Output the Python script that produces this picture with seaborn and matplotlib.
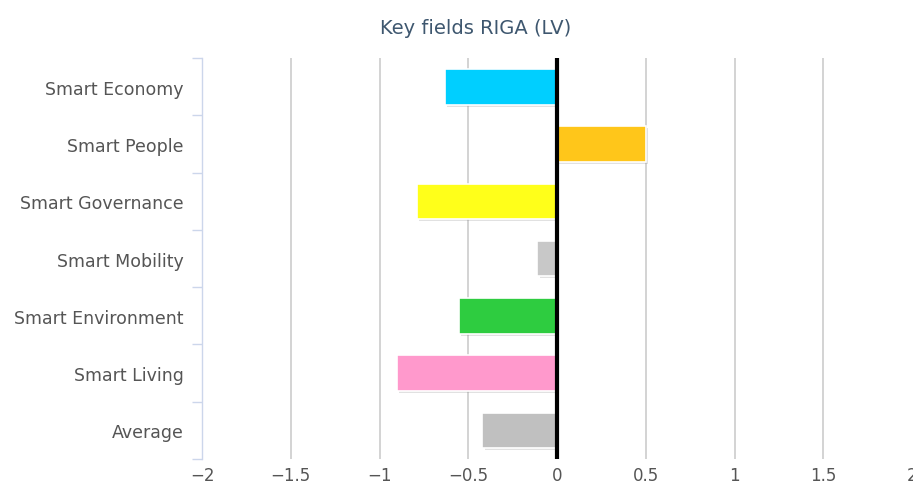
import matplotlib
matplotlib.use("Agg")
import matplotlib.pyplot as plt
import matplotlib.patheffects as pe
import seaborn as sns
import pandas as pd
import numpy as np

# values
categories = ["Smart Economy", "Smart People", "Smart Governance", "Smart Mobility",
              "Smart Environment", "Smart Living", "Average"]
scores = [-0.63, 0.50, -0.79, -0.11, -0.55, -0.90, -0.42]
bar_colors = ["#00cfff", "#ffc61a", "#ffff1a", "#c8c8c8", "#2ecc40", "#ff99cc", "#c0c0c0"]
x_ticks = [-2, -1.5, -1, -0.5, 0, 0.5, 1, 1.5, 2]

df = pd.DataFrame({"field": categories, "score": scores})

sns.set_style("white")
plt.rcParams["font.family"] = ["DejaVu Sans"]

fig = plt.figure(figsize=(9.13, 4.85), dpi=100)
ax = fig.add_axes([0.2213, 0.0515, 0.7776, 0.8265])

# grid lines
for xv in x_ticks[1:-1]:
    if xv != 0:
        ax.axvline(xv, color="#c8c8c8", lw=1.1, zorder=0)

sns.barplot(data=df, x="score", y="field", hue="field", palette=bar_colors,
            saturation=1, legend=False, width=0.62, edgecolor="white",
            linewidth=1.2, ax=ax, zorder=2)

# soft shadow like the original
for p in ax.patches:
    p.set_path_effects([pe.SimplePatchShadow(offset=(1.5, -1.5), shadow_rgbFace="#888888", alpha=0.25),
                        pe.Normal()])

ax.axvline(0, color="black", lw=3, zorder=3)

ax.set_xlim(-2, 2)
ax.set_ylim(6.5, -0.5)
ax.set_xticks(x_ticks)
ax.set_xticklabels(["\u22122", "\u22121.5", "\u22121", "\u22120.5", "0", "0.5", "1", "1.5", "2"])
ax.set_xlabel("")
ax.set_ylabel("")

for s in ["top", "right", "bottom"]:
    ax.spines[s].set_visible(False)
ax.spines["left"].set_color("#ccd6eb")
ax.spines["left"].set_linewidth(1)

ax.tick_params(axis="x", length=0, pad=5, labelsize=12, labelcolor="#555555")
ax.tick_params(axis="y", which="major", left=False, length=0, pad=13,
               labelsize=12.5, labelcolor="#555555")
ax.set_yticks(np.arange(-0.5, 7.0, 1.0), minor=True)
ax.tick_params(axis="y", which="minor", left=True, length=7, color="#ccd6eb", width=1)

fig.text(0.521, 0.942, "Key fields RIGA (LV)", ha="center", va="center",
         fontsize=14, color="#3e576f")

fig.savefig("out.png", dpi=100)
